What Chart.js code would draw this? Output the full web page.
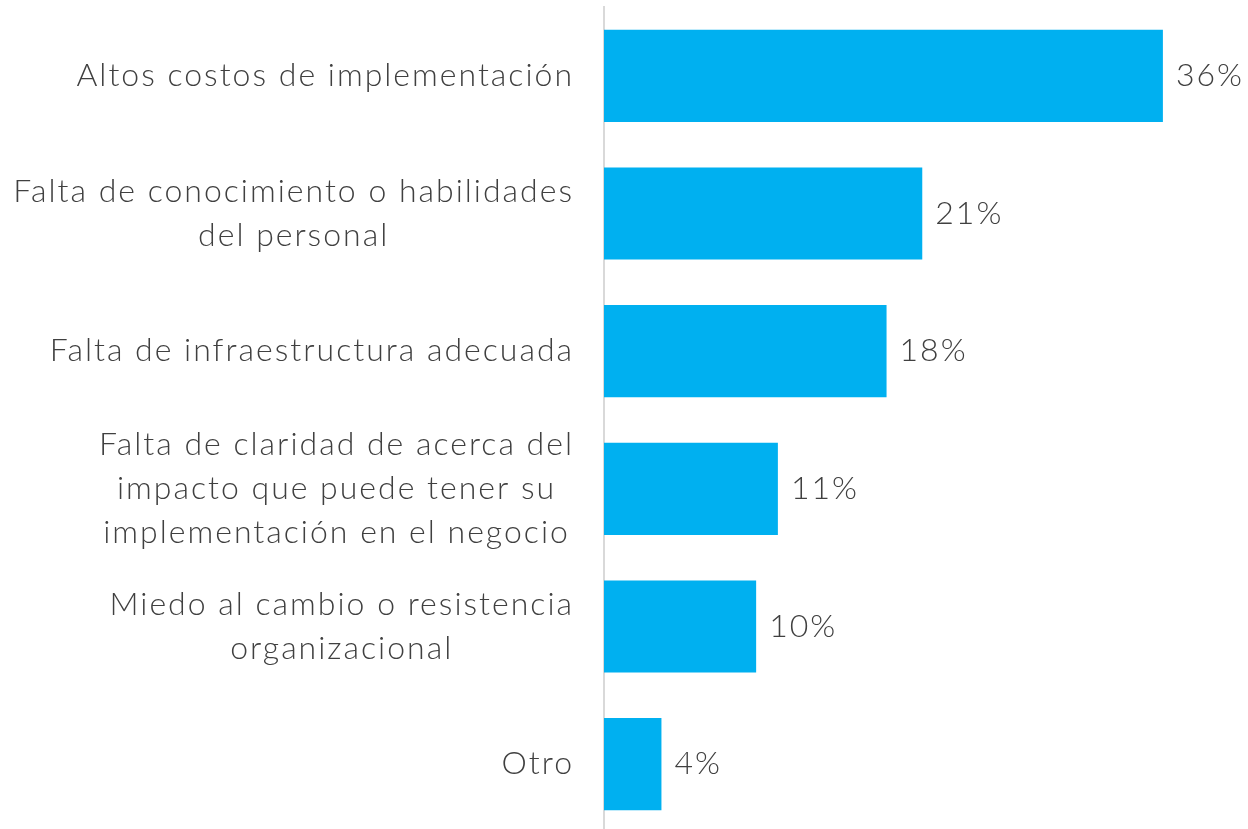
<!DOCTYPE html>
<html>
<head>
<meta charset="utf-8">
<script src="https://cdn.jsdelivr.net/npm/chart.js@4/dist/chart.umd.min.js"></script>
<style>
  html, body { margin: 0; padding: 0; background: #fff; overflow: hidden; }
  #wrap { width: 1248px; height: 834px; position: relative; }
</style>
</head>
<body>
<div id="wrap"><canvas id="myChart"></canvas></div>
<script>
// categories (each line of a label is one array entry)
var categories = [
    ["Altos costos de implementación"],
    ["Falta de conocimiento o habilidades", "del personal"],
    ["Falta de infraestructura adecuada"],
    ["Falta de claridad de acerca del", "impacto que puede tener su", "implementación en el negocio"],
    ["Miedo al cambio o resistencia", "organizacional"],
    ["Otro"]
];
// percent values
var values = [36, 20.5, 18.2, 11.2, 9.8, 3.7];

var fontFamily = "Lato, 'Open Sans', sans-serif";
var textColor = "#404040";
var labelSize = 32;
var spacing = 2;

// draws the left labels: block right aligned, lines centered inside block
var labelPlugin = {
    id: 'labels',
    afterDraw: function (chart) {
        var c = chart.ctx;
        var yScale = chart.scales.y;
        var rightEdge = chart.chartArea.left - 32;
        var lh = 44;
        c.save();
        c.fillStyle = textColor;
        c.font = "300 " + labelSize + "px " + fontFamily;
        c.letterSpacing = spacing + "px";
        c.textAlign = "left";
        c.textBaseline = "middle";
        categories.forEach(function (lines, i) {
            var widths = lines.map(function (t) { return c.measureText(t).width - spacing; });
            var w = Math.max.apply(null, widths);
            var cx = rightEdge - w / 2;
            var cy = yScale.getPixelForTick(i);
            var top = cy - (lines.length - 1) * lh / 2;
            lines.forEach(function (t, j) {
                c.fillText(t, cx - widths[j] / 2, top + j * lh);
            });
        });
        // value labels
        var meta = chart.getDatasetMeta(0);
        meta.data.forEach(function (bar, i) {
            c.fillText(Math.round(values[i]) + "%", bar.x + 13, bar.y);
        });
        c.restore();
    }
};

const ctx = document.getElementById('myChart');
new Chart(ctx, {
    type: 'bar',
    data: {
        labels: categories,
        datasets: [{
                data: values,
                backgroundColor: '#00B0F0',
                borderWidth: 0,
                barPercentage: 0.67,
                categoryPercentage: 1
            }]
    },
    options: {
        indexAxis: 'y',
        responsive: true,
        maintainAspectRatio: false,
        animation: false,
        layout: {
            padding: {top: 7, bottom: 1, right: 23, left: 0}
        },
        plugins: {
            legend: {display: false},
            tooltip: {enabled: false}
        },
        scales: {
            x: {
                display: false,
                min: 0,
                max: 40
            },
            y: {
                grid: {display: false, drawTicks: false},
                border: {display: true, color: '#d9d9d9', width: 2},
                ticks: {display: false},
                afterFit: function (scale) {
                    scale.width = 604;
                }
            }
        }
    },
    plugins: [labelPlugin]
});
</script>
</body>
</html>
